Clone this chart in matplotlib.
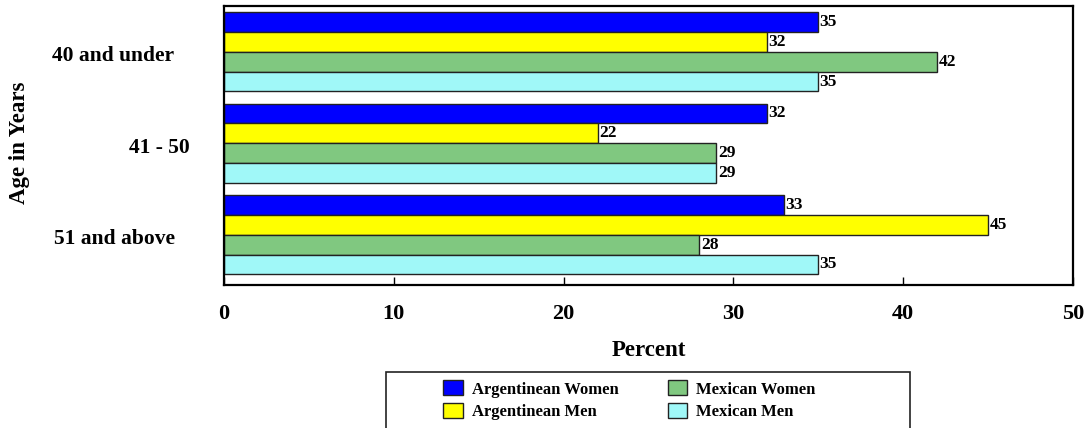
import matplotlib.pyplot as plt
from matplotlib.patches import Patch, Rectangle
from matplotlib.transforms import blended_transform_factory
import numpy as np

plt.rcParams['font.family'] = 'Liberation Serif'
plt.rcParams['font.weight'] = 'bold'

age_groups = ['40 and under', '41 - 50', '51 and above']
series_names = ['Argentinean Women', 'Argentinean Men', 'Mexican Women', 'Mexican Men']
arg_women = [35, 32, 33]
arg_men = [32, 22, 45]
mex_women = [42, 29, 28]
mex_men = [35, 29, 35]
colors = ['#0000FF', '#FFFF00', '#80C880', '#A0F8F8']

W, H = 1089, 428
fig = plt.figure(figsize=(W / 100, H / 100), dpi=100)
ax = fig.add_axes([224 / W, (H - 285) / H, 849 / W, 279 / H])

y = np.arange(len(age_groups))
bh = 0.217
all_series = [arg_women, arg_men, mex_women, mex_men]
for i, vals in enumerate(all_series):
    pos = y - 1.5 * bh + i * bh
    bars = ax.barh(pos, vals, height=bh, color=colors[i], edgecolor='#222222', linewidth=1)
    ax.bar_label(bars, padding=1, fontsize=12.5, fontweight='bold')

ax.set_xlim(0, 50)
ax.set_ylim(2.55, -0.5)
ax.set_xticks([0, 10, 20, 30, 40, 50])
ax.tick_params(axis='x', direction='in', length=6, width=1, pad=14, labelsize=16)
ax.set_yticks([])
for sp in ax.spines.values():
    sp.set_linewidth(1.6)

ax.set_xlabel('Percent', fontsize=16.5, fontweight='bold', labelpad=11)

# category labels sit at slightly different offsets left of the axes
label_x = [113, 159, 114]
trans = blended_transform_factory(fig.transFigure, ax.transData)
for yi, name, lx in zip(y, age_groups, label_x):
    ax.text(lx / W, yi + 0.05, name, transform=trans,
            ha='center', va='center', fontsize=15.5, fontweight='bold')

fig.text(19 / W, 1 - 143 / H, 'Age in Years', rotation=90, ha='center', va='center',
         fontsize=16.5, fontweight='bold')

# legend box runs off the bottom edge
fig.patches.append(Rectangle((386 / W, -0.05), (910 - 386) / W, (H - 372) / H + 0.05,
                             transform=fig.transFigure, facecolor='white', edgecolor='#222222',
                             linewidth=1.2))
handles = [Patch(facecolor=c, edgecolor='#222222', linewidth=1) for c in colors]
fig.legend(handles, series_names, ncol=2, frameon=False, fontsize=12,
           loc='upper left', bbox_to_anchor=(435 / W, 1 - 372 / H),
           handlelength=1.15, handleheight=1.0, handletextpad=0.55,
           columnspacing=2.95, labelspacing=0.35, borderpad=0)

fig.savefig('out.png', dpi=100)
